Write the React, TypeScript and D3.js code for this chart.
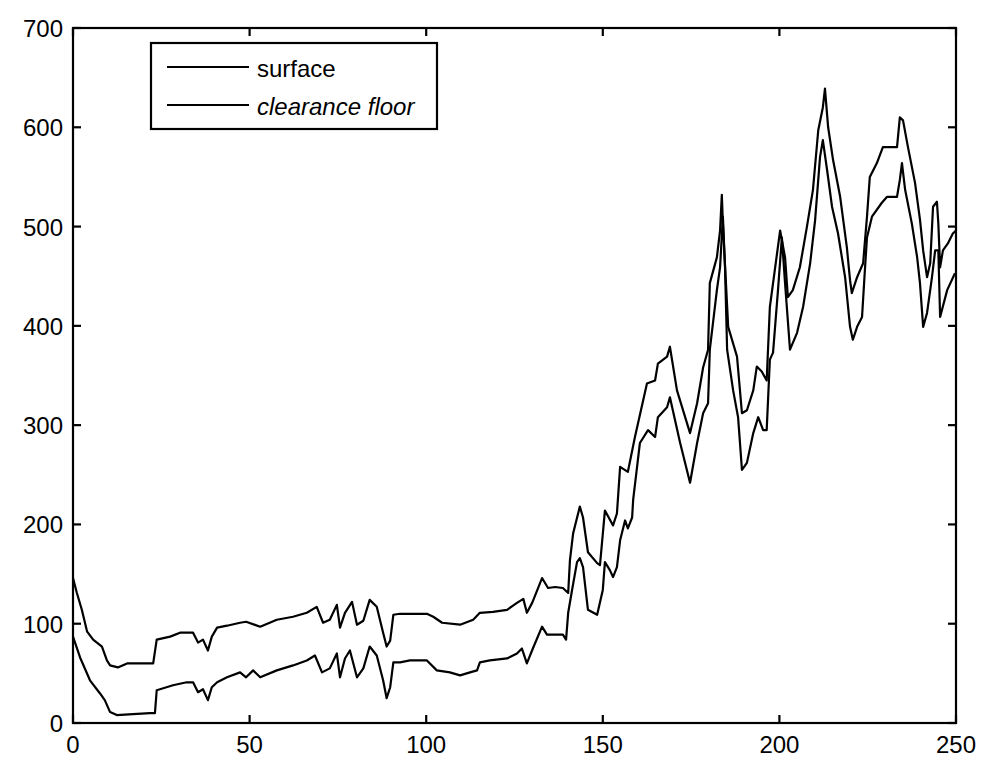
import React from "react";
import * as d3 from "d3";

const xTicks = [0, 50, 100, 150, 200, 250];
const yTicks = [0, 100, 200, 300, 400, 500, 600, 700];

const surfaceX = [0, 2, 4.8, 7.6, 9, 10.5, 12.4, 17, 21.8, 23.2, 23.7, 28.3, 32.2, 34, 35.4, 36.8, 38.2, 39.3, 40.8, 43.6, 47.3, 49, 51, 53, 57.7, 62.3, 66.2, 68.5, 70.5, 72.7, 74.7, 75.6, 77, 78.4, 80.4, 82.2, 84, 86, 87.8, 88.8, 89.8, 90.7, 92.6, 95.4, 100.2, 103, 106.7, 109.6, 112.4, 114.4, 115.2, 118, 122.9, 125.7, 127.1, 128.5, 130.2, 132.8, 134.2, 136, 138.7, 139.6, 140.2, 141.3, 142.7, 143.5, 144.4, 145.8, 148.4, 150, 150.6, 152, 152.9, 154, 154.9, 156.3, 157.1, 158.3, 158.6, 160.5, 162.8, 164.8, 165.6, 168.2, 169, 171.9, 174.7, 176.7, 178.4, 179.8, 180.3, 182.3, 183.2, 184, 184.6, 185.2, 186.9, 188.3, 189.4, 190.8, 192.6, 194, 195.4, 196.4, 197.3, 198.2, 199.6, 200.7, 201.6, 203, 205, 206.7, 208.7, 210.1, 211.5, 212.3, 213.5, 214.9, 216.6, 218.6, 220, 220.8, 222, 223.4, 224.2, 224.8, 226.2, 229, 230.5, 233.3, 234.1, 234.7, 235.6, 237.5, 239, 239.8, 240.7, 241.8, 243.2, 244.1, 245, 245.5, 247.5, 249.7];
const surfaceY = [87, 66, 43, 30, 23, 11, 8, 9, 10, 10, 33, 38, 41, 41, 31, 34, 23, 36, 41, 46, 51, 46, 53, 46, 53, 58, 63, 68, 51, 55, 70, 46, 65, 73, 46, 55, 77, 68, 43, 25, 36, 61, 61, 63, 63, 53, 51, 48, 51, 53, 61, 63, 65, 70, 75, 60, 75, 97, 89, 89, 89, 84, 111, 134, 162, 166, 157, 114, 109, 134, 162, 154, 147, 157, 184, 204, 196, 207, 225, 282, 295, 288, 308, 318, 328, 282, 242, 282, 312, 322, 376, 436, 459, 510, 459, 376, 335, 308, 255, 262, 292, 308, 295, 295, 366, 373, 436, 489, 443, 376, 393, 419, 463, 506, 570, 587, 557, 520, 493, 449, 399, 386, 399, 409, 456, 489, 510, 524, 530, 530, 547, 564, 537, 503, 469, 443, 399, 413, 449, 476, 476, 409, 436, 453];

const clearanceX = [0, 1.1, 2.5, 4, 5.7, 8.2, 9.6, 10.5, 12.7, 15.3, 19, 22.7, 23.7, 27.5, 30.3, 34, 35.4, 36.8, 38.2, 39.3, 40.8, 43.6, 47.3, 49, 53, 57.7, 62.3, 66.2, 69, 70.8, 72.7, 74.7, 75.6, 77, 79, 80.4, 82.2, 84, 86, 87.8, 88.8, 89.8, 90.7, 92.6, 100.2, 102, 104.5, 109.6, 113.3, 115.2, 118.9, 122.9, 125.7, 127.5, 128.5, 130, 132.8, 134.5, 136.5, 138.7, 140.2, 140.7, 141.6, 143.5, 144.4, 145.8, 148.4, 149.2, 150.6, 152.9, 154, 154.9, 157.1, 159.1, 162.5, 164.8, 165.6, 168.2, 169, 171, 174.7, 176.7, 178.4, 179.8, 180.3, 182.3, 183.2, 183.7, 184, 185.5, 188, 189.4, 190.8, 192.6, 193.6, 195, 196.4, 197.3, 200.2, 201.6, 202.4, 203.8, 205.8, 207.8, 209.5, 211, 212.3, 212.9, 213.8, 215.2, 217.2, 219.1, 220, 220.5, 222, 223.7, 224.8, 225.6, 227.6, 229.3, 233.3, 234.1, 235, 236.4, 238.4, 239.8, 240.7, 241.8, 242.7, 243.5, 244.6, 245, 245.5, 246.3, 247.7, 249.1, 250];
const clearanceY = [146, 131, 114, 92, 84, 77, 63, 58, 56, 60, 60, 60, 84, 87, 91, 91, 81, 84, 73, 87, 96, 98, 101, 102, 97, 104, 107, 111, 117, 101, 104, 119, 96, 111, 122, 99, 103, 124, 117, 91, 77, 83, 109, 110, 110, 107, 101, 99, 104, 111, 112, 114, 121, 125, 111, 121, 146, 136, 137, 136, 131, 164, 191, 218, 207, 172, 161, 159, 214, 199, 211, 258, 253, 288, 342, 345, 362, 369, 379, 335, 292, 322, 358, 376, 443, 469, 496, 532, 503, 399, 369, 312, 315, 335, 359, 354, 345, 419, 496, 469, 429, 436, 459, 500, 537, 597, 620, 639, 600, 567, 530, 479, 446, 433, 449, 463, 510, 550, 564, 580, 580, 610, 607, 580, 544, 507, 476, 449, 463, 520, 525, 503, 459, 476, 483, 493, 496];

const legendLabels = ["surface", "clearance floor"];

const W = 988;
const H = 760;
const L = 73, R = 956, T = 28, B = 723;
const FONT = "'Liberation Sans', Arial, Helvetica, sans-serif";

export default function App() {
  const x = d3.scaleLinear().domain([0, 250]).range([L, R]);
  const y = d3.scaleLinear().domain([0, 700]).range([B, T]);
  const line = d3.line<[number, number]>().x(d => x(d[0])).y(d => y(d[1]));
  const surf: [number, number][] = surfaceX.map((v, i) => [v, surfaceY[i]]);
  const clr: [number, number][] = clearanceX.map((v, i) => [v, clearanceY[i]]);
  const tl = 8;
  return (
    <div style={{ position: "absolute", left: 0, top: 0 }}>
      <svg width={W} height={H} style={{ display: "block", background: "#fff" }}>
        <rect x={0} y={0} width={W} height={H} fill="#fff" />
        <g fill="none" stroke="#000" strokeWidth={2.2} strokeLinejoin="round">
          <path d={line(surf) || ""} />
          <path d={line(clr) || ""} />
        </g>
        <rect x={L} y={T} width={R - L} height={B - T} fill="none" stroke="#000" strokeWidth={2.2} />
        <g stroke="#000" strokeWidth={2.2}>
          {xTicks.map(t => (
            <g key={"xt" + t}>
              <line x1={x(t)} x2={x(t)} y1={B} y2={B - tl} />
              <line x1={x(t)} x2={x(t)} y1={T} y2={T + tl} />
            </g>
          ))}
          {yTicks.map(t => (
            <g key={"yt" + t}>
              <line x1={L} x2={L + tl} y1={y(t)} y2={y(t)} />
              <line x1={R} x2={R - tl} y1={y(t)} y2={y(t)} />
            </g>
          ))}
        </g>
        <g fontFamily={FONT} fontSize={24} fill="#000">
          {xTicks.map(t => (
            <text key={"xl" + t} x={x(t)} y={753} textAnchor="middle">{t}</text>
          ))}
          {yTicks.map(t => (
            <text key={"yl" + t} x={63} y={y(t) + 9} textAnchor="end">{t}</text>
          ))}
        </g>
        <rect x={151} y={43} width={286} height={86} fill="#fff" stroke="#000" strokeWidth={2.2} />
        <g stroke="#000" strokeWidth={2.2}>
          <line x1={167} x2={249} y1={67} y2={67} />
          <line x1={167} x2={249} y1={105} y2={105} />
        </g>
        <g fontFamily={FONT} fontSize={24} fill="#000">
          <text x={257} y={77}>{legendLabels[0]}</text>
          <text x={257} y={115} fontStyle="italic">{legendLabels[1]}</text>
        </g>
      </svg>
    </div>
  );
}
